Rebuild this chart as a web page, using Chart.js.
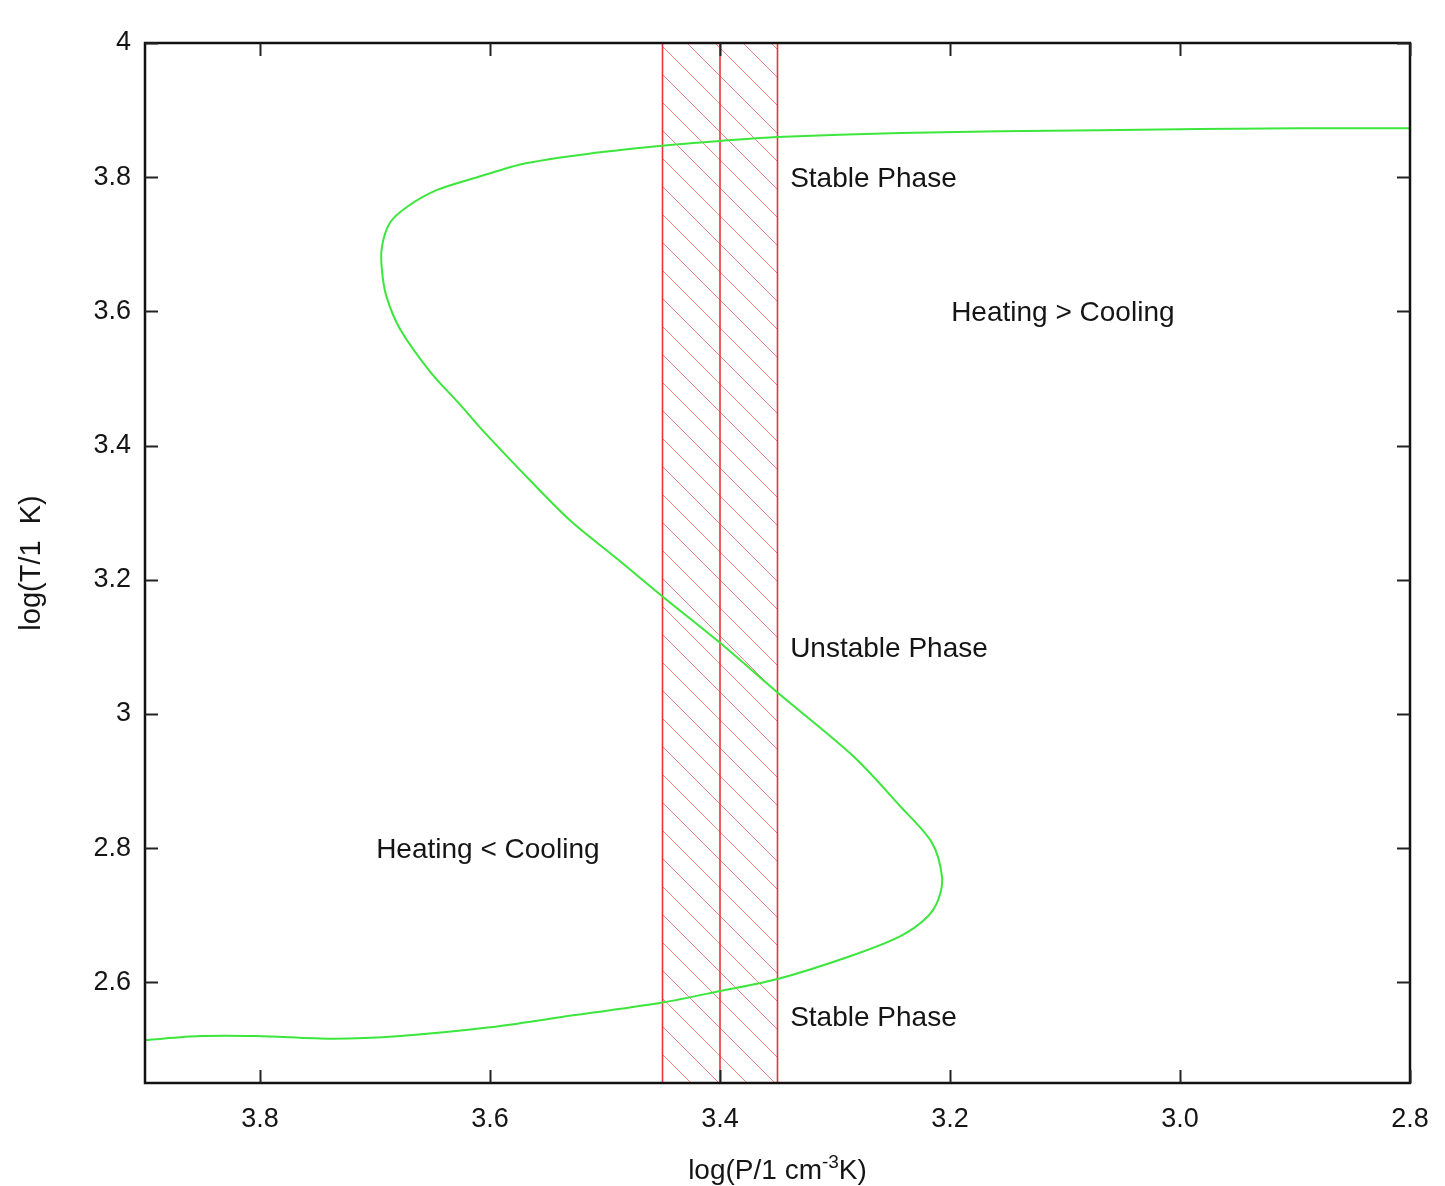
<!DOCTYPE html>
<html><head><meta charset="utf-8">
<script src="https://cdn.jsdelivr.net/npm/chart.js@4.4.1/dist/chart.umd.min.js"></script>
<style>html,body{margin:0;padding:0;background:#fff;overflow:hidden}#wrap{width:1445px;height:1186px}</style>
</head><body><div id="wrap"><canvas id="c" width="1445" height="1186"></canvas></div>
<script>
// ---- data ----
const curveP = [3.900,3.852,3.803,3.737,3.678,3.600,3.539,3.450,3.400,3.350,3.287,3.243,3.220,3.210,3.207,3.216,3.243,3.284,3.350,3.400,3.450,3.490,3.530,3.565,3.606,3.626,3.652,3.678,3.690,3.694,3.694,3.687,3.672,3.646,3.611,3.568,3.510,3.450,3.400,3.350,3.243,3.070,2.896,2.800];
const curveT = [2.514,2.520,2.520,2.516,2.520,2.533,2.548,2.570,2.587,2.605,2.639,2.669,2.697,2.724,2.758,2.809,2.862,2.937,3.032,3.106,3.175,3.232,3.288,3.348,3.422,3.461,3.510,3.573,3.622,3.662,3.696,3.732,3.756,3.781,3.800,3.821,3.836,3.847,3.854,3.860,3.866,3.870,3.873,3.873];
const bandEdges = [3.45, 3.40, 3.35];
const xRange = [2.8, 3.9];
const yRange = [2.45, 4];
const xTicks = [3.8, 3.6, 3.4, 3.2, 3.0, 2.8];
const xTickLabels = ['3.8', '3.6', '3.4', '3.2', '3.0', '2.8'];
const yTicks = [4, 3.8, 3.6, 3.4, 3.2, 3, 2.8, 2.6];
const yTickLabels = ['4', '3.8', '3.6', '3.4', '3.2', '3', '2.8', '2.6'];
const labelTexts = ['Stable Phase', 'Heating > Cooling', 'Unstable Phase', 'Heating < Cooling', 'Stable Phase'];
const labelP = [3.339, 3.199, 3.339, 3.699, 3.339];
const labelT = [3.797, 3.597, 3.097, 2.797, 2.547];
const xTitleParts = ['log(P/1 cm', '-3', 'K)'];
const yTitle = 'log(T/1  K)';

// ---- styling ----
const FONT = "'Liberation Sans', Arial, sans-serif";
const TXT = '#151515';

function hatchPattern() {
  const s = 28;
  const c = document.createElement('canvas');
  c.width = s; c.height = s;
  const g = c.getContext('2d');
  g.strokeStyle = 'rgba(235,80,80,0.7)';
  g.lineWidth = 1;
  g.beginPath();
  g.moveTo(-2, -2); g.lineTo(s + 2, s + 2);
  g.moveTo(-2, s - 2); g.lineTo(2, s + 2);
  g.moveTo(s - 2, -2); g.lineTo(s + 2, 2);
  g.stroke();
  return g.createPattern(c, 'repeat');
}

const edgeSets = bandEdges.map(v => ({
  data: [{x: v, y: yRange[0]}, {x: v, y: yRange[1]}],
  borderColor: '#e8343a', borderWidth: 1.6, pointRadius: 0, fill: false, tension: 0
}));

const frame = {
  id: 'frame',
  afterDatasetsDraw(chart) {
    const {ctx, chartArea: a, scales: {x, y}} = chart;
    ctx.save();
    ctx.fillStyle = TXT;
    ctx.font = '28px ' + FONT;
    ctx.textAlign = 'left';
    ctx.textBaseline = 'middle';
    labelTexts.forEach((t, i) => {
      ctx.fillText(t, x.getPixelForValue(labelP[i]), y.getPixelForValue(labelT[i]));
    });
    ctx.strokeStyle = '#111';
    ctx.lineWidth = 2.5;
    ctx.strokeRect(a.left, a.top, a.right - a.left, a.bottom - a.top);
    ctx.lineWidth = 2;
    ctx.strokeStyle = '#222';
    const L = 13;
    ctx.beginPath();
    xTicks.forEach(v => {
      const px = Math.round(x.getPixelForValue(v)) + 0.5;
      ctx.moveTo(px, a.bottom); ctx.lineTo(px, a.bottom - L);
      ctx.moveTo(px, a.top); ctx.lineTo(px, a.top + L);
    });
    yTicks.forEach(v => {
      const py = Math.round(y.getPixelForValue(v)) + 0.5;
      ctx.moveTo(a.left, py); ctx.lineTo(a.left + L, py);
      ctx.moveTo(a.right, py); ctx.lineTo(a.right - L, py);
    });
    ctx.stroke();
    ctx.fillStyle = TXT;
    ctx.textBaseline = 'alphabetic';
    ctx.textAlign = 'left';
    const big = '28px ' + FONT, small = '19px ' + FONT;
    ctx.font = big; const w1 = ctx.measureText(xTitleParts[0]).width, w3 = ctx.measureText(xTitleParts[2]).width;
    ctx.font = small; const w2 = ctx.measureText(xTitleParts[1]).width;
    let sx = (a.left + a.right) / 2 - (w1 + w2 + w3) / 2;
    const by = 1179;
    ctx.font = big; ctx.fillText(xTitleParts[0], sx, by); sx += w1;
    ctx.font = small; ctx.fillText(xTitleParts[1], sx, by - 11); sx += w2;
    ctx.font = big; ctx.fillText(xTitleParts[2], sx, by);
    ctx.save();
    ctx.translate(32, (a.top + a.bottom) / 2);
    ctx.rotate(-Math.PI / 2);
    ctx.textAlign = 'center';
    ctx.textBaseline = 'middle';
    ctx.font = '29px ' + FONT;
    ctx.fillText(yTitle, 0, 0);
    ctx.restore();
    ctx.restore();
  }
};

new Chart(document.getElementById('c'), {
  type: 'line',
  data: {
    datasets: [
      {
        data: curveP.map((p, i) => ({x: p, y: curveT[i]})),
        borderColor: '#3ce63c', borderWidth: 2, pointRadius: 0, fill: false, tension: 0.3
      },
      ...edgeSets,
      {
        data: [{x: bandEdges[0], y: yRange[1]}, {x: bandEdges[2], y: yRange[1]}],
        borderWidth: 0, borderColor: 'rgba(0,0,0,0)', pointRadius: 0,
        fill: 'start', backgroundColor: hatchPattern(), tension: 0
      }
    ]
  },
  options: {
    responsive: false,
    animation: false,
    layout: {padding: {top: 43, right: 35, left: 0, bottom: 0}},
    plugins: {legend: {display: false}, tooltip: {enabled: false}, title: {display: false}},
    scales: {
      x: {
        type: 'linear', reverse: true, min: xRange[0], max: xRange[1],
        afterBuildTicks: s => { s.ticks = xTicks.map(v => ({value: v})); },
        afterFit: s => { s.height = 103; s.paddingLeft = 0; s.paddingRight = 0; },
        grid: {display: false, drawTicks: false}, border: {display: false},
        ticks: {font: {family: FONT, size: 27}, color: TXT, padding: 20, maxRotation: 0, autoSkip: false,
                callback: (v, i) => xTickLabels[i]}
      },
      y: {
        type: 'linear', min: yRange[0], max: yRange[1],
        afterBuildTicks: s => { s.ticks = yTicks.map(v => ({value: v})); },
        afterFit: s => { s.width = 145; s.paddingTop = 0; s.paddingBottom = 0; },
        grid: {display: false, drawTicks: false}, border: {display: false},
        ticks: {font: {family: FONT, size: 27}, color: TXT, padding: 14, autoSkip: false,
                callback: (v, i) => yTickLabels[i]}
      }
    }
  },
  plugins: [frame]
});
</script>
</body></html>
